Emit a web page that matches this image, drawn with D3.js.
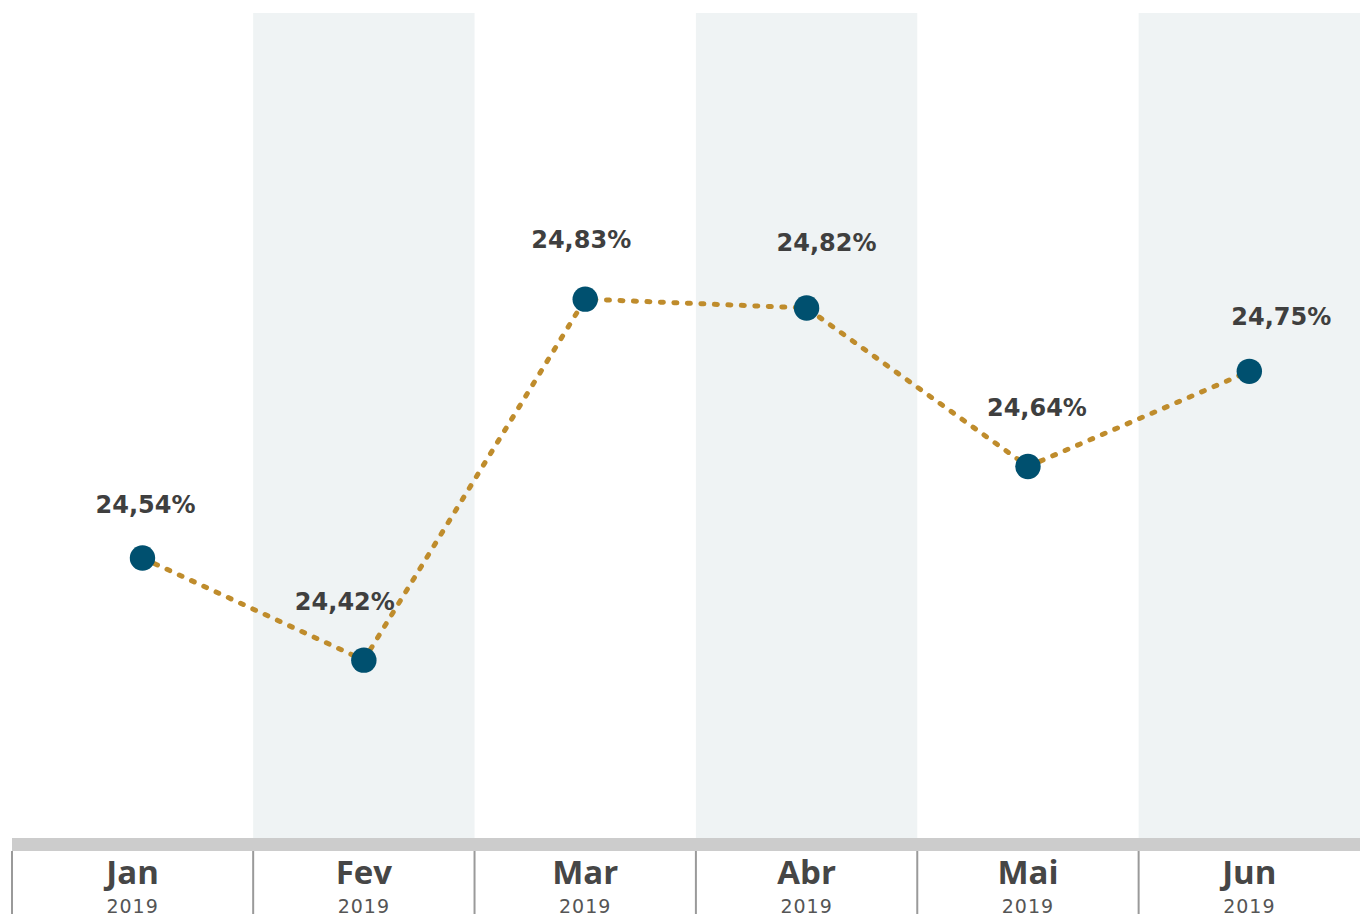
<!DOCTYPE html>
<html>
<head>
<meta charset="utf-8">
<script src="https://cdn.jsdelivr.net/npm/d3@7"></script>
<style>
  html, body { margin: 0; padding: 0; background: #ffffff; }
  svg { display: block; }
</style>
</head>
<body>
<svg id="chart" width="1360" height="914"></svg>
<script>
// ---- data ----
const months = ["Jan", "Fev", "Mar", "Abr", "Mai", "Jun"];
const years = ["2019", "2019", "2019", "2019", "2019", "2019"];
const values = [24.536, 24.42, 24.83, 24.82, 24.64, 24.748];
const yDomain = [24.218, 25.155];

// label nudges (layout only)
const labelDx = [3, -19, -4, 20, 9, 32];
const labelDy = [-45, -50, -51, -57, -50, -46];

const W = 1360, H = 914;
const plotTop = 13, plotBottom = 838, axisLeft = 12;

const svg = d3.select("#chart");

const x = d3.scaleBand().domain(months).range([31.8, W]).padding(0);
const y = d3.scaleLinear().domain(yDomain).range([plotBottom, plotTop]);

// alternating shaded columns
svg.append("g").selectAll("rect")
  .data(months.filter((m, i) => i % 2 === 1))
  .join("rect")
  .attr("x", d => x(d))
  .attr("y", plotTop)
  .attr("width", x.bandwidth())
  .attr("height", plotBottom - plotTop)
  .attr("fill", "#eff3f4");

// axis bar
svg.append("rect")
  .attr("x", axisLeft).attr("y", plotBottom)
  .attr("width", W - axisLeft).attr("height", 13)
  .attr("fill", "#cccccc");

// tick separators
const bounds = months.map((m, i) => i === 0 ? axisLeft : x(m));
bounds.push(W);
svg.append("g").selectAll("line")
  .data(bounds.slice(0, months.length))
  .join("line")
  .attr("x1", d => d).attr("x2", d => d)
  .attr("y1", plotBottom + 13).attr("y2", H)
  .attr("stroke", "#9a9a9a").attr("stroke-width", 2);

// month labels
const lab = svg.append("g");
months.forEach((m, i) => {
  const cx = (bounds[i] + bounds[i + 1]) / 2;
  lab.append("text")
    .attr("x", cx).attr("y", 884)
    .attr("text-anchor", "middle")
    .attr("font-family", "'Open Sans', sans-serif")
    .attr("font-weight", 700)
    .attr("font-size", 33)
    .attr("fill", "#464646")
    .text(m);
  lab.append("text")
    .attr("x", cx).attr("y", 913)
    .attr("text-anchor", "middle")
    .attr("font-family", "'DejaVu Sans', sans-serif")
    .attr("font-size", 19)
    .attr("letter-spacing", 1)
    .attr("fill", "#555555")
    .text(years[i]);
});

const data = months.map((m, i) => ({ m, v: values[i], i }));
const cx = d => x(d.m) + x.bandwidth() / 2;

// dotted line
svg.append("path")
  .datum(data)
  .attr("d", d3.line().x(cx).y(d => y(d.v)))
  .attr("fill", "none")
  .attr("stroke", "#bf8c2c")
  .attr("stroke-width", 5)
  .attr("stroke-linecap", "round")
  .attr("stroke-dasharray", "3,10.5");

// points
svg.append("g").selectAll("circle")
  .data(data)
  .join("circle")
  .attr("cx", cx)
  .attr("cy", d => y(d.v))
  .attr("r", 12.7)
  .attr("fill", "#00506f");

// value labels
const fmt = d3.format(".2f");
svg.append("g").selectAll("text")
  .data(data)
  .join("text")
  .attr("x", d => cx(d) + labelDx[d.i])
  .attr("y", d => y(d.v) + labelDy[d.i])
  .attr("text-anchor", "middle")
  .attr("font-family", "'DejaVu Sans', sans-serif")
  .attr("font-weight", 700)
  .attr("font-size", 24)
  .attr("fill", "#3f3f3f")
  .text(d => fmt(d.v).replace(".", ",") + "%");
</script>
</body>
</html>
